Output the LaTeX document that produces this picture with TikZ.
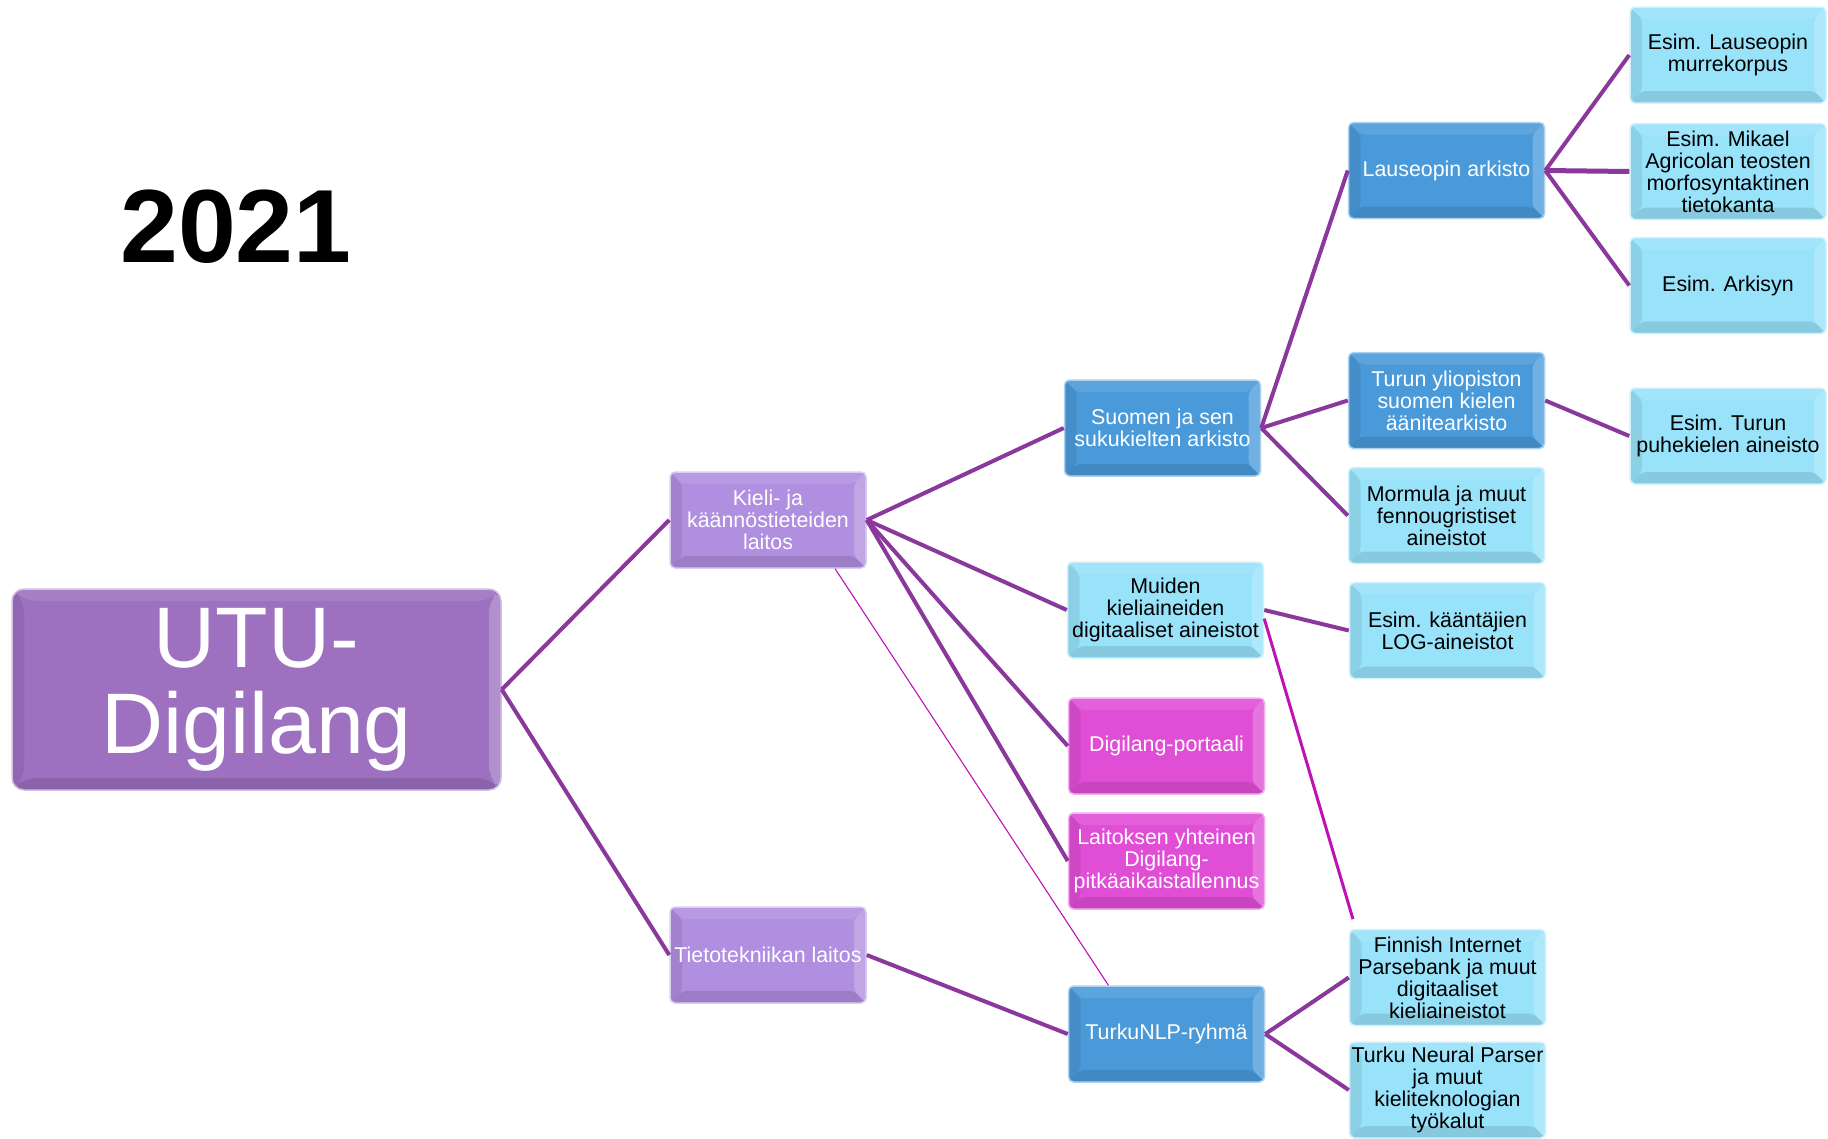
\documentclass[tikz,border=0pt]{standalone}
\usepackage{fontspec}
\setmainfont{Liberation Sans}
\usetikzlibrary{positioning}

\definecolor{utupurple}{RGB}{157,112,192}
\definecolor{deptpurple}{RGB}{176,142,224}
\definecolor{archblue}{RGB}{74,154,218}
\definecolor{datacyan}{RGB}{152,226,250}
\definecolor{portalpink}{RGB}{224,78,214}
\definecolor{linepurple}{RGB}{138,56,156}
\definecolor{crossmagenta}{RGB}{190,18,182}

\newcommand{\boxfont}{\fontsize{21.4}{22}\selectfont}

\tikzset{
  bevel/.style={path picture={
      % darker left and bottom, lighter top and right
      \fill[black, opacity=0.08] (path picture bounding box.south west) -- (path picture bounding box.north west)
        -- ([shift={(#1,-#1)}]path picture bounding box.north west) -- ([shift={(#1,#1)}]path picture bounding box.south west) -- cycle;
      \fill[black, opacity=0.11] (path picture bounding box.south west) -- (path picture bounding box.south east)
        -- ([shift={(-#1,#1)}]path picture bounding box.south east) -- ([shift={(#1,#1)}]path picture bounding box.south west) -- cycle;
      \fill[white, opacity=0.10] (path picture bounding box.north west) -- (path picture bounding box.north east)
        -- ([shift={(-#1,-#1)}]path picture bounding box.north east) -- ([shift={(#1,-#1)}]path picture bounding box.north west) -- cycle;
      \fill[white, opacity=0.22] (path picture bounding box.north east) -- (path picture bounding box.south east)
        -- ([shift={(-#1,#1)}]path picture bounding box.south east) -- ([shift={(-#1,-#1)}]path picture bounding box.north east) -- cycle;
  }},
  tile/.style 2 args={fill=#1, draw=#1!45!white, line width=1.5pt, rounded corners=5pt,
      minimum width=196pt, minimum height=96pt, inner sep=1pt, align=center,
      text=#2, font=\boxfont, bevel=12pt},
  link/.style={draw=linepurple, line width=4pt},
  crosslink/.style={draw=crossmagenta, line width=3pt},
  thinlink/.style={draw=crossmagenta, line width=1.1pt},
}

\begin{document}
\begin{tikzpicture}[x=1pt,y=-1pt]
  \useasboundingbox (0,0) rectangle (1828,1138);

  \node (year) at (236,227) {\fontsize{104}{104}\selectfont\bfseries 2021};

  \node[tile={utupurple}{white}, minimum width=489pt, minimum height=201pt, rounded corners=12pt,
        font=\fontsize{86}{86}\selectfont] (utu) at (256.5,689.5) {UTU-\\Digilang};

  \node[tile={deptpurple}{white}] (kieli) at (768,520) {Kieli- ja\\käännöstieteiden\\laitos};
  \node[tile={deptpurple}{white}] (tieto) at (768,955) {Tietotekniikan laitos};

  \node[tile={archblue}{white}] (suomen) at (1162.5,428) {Suomen ja sen\\sukukielten arkisto};
  \node[tile={datacyan}{black}] (muiden) at (1165.5,610) {Muiden\\kieliaineiden\\digitaaliset aineistot};
  \node[tile={portalpink}{white}] (portaali) at (1166.5,746) {Digilang-portaali};
  \node[tile={portalpink}{white}] (laitoksen) at (1166.5,861) {Laitoksen yhteinen\\Digilang-\\pitkäaikaistallennus};
  \node[tile={archblue}{white}] (turkunlp) at (1166.5,1034) {TurkuNLP-ryhmä};

  \node[tile={archblue}{white}] (lauseopin) at (1446.5,170.5) {Lauseopin arkisto};
  \node[tile={archblue}{white}] (turun) at (1446.5,400.5) {Turun yliopiston\\suomen kielen\\äänitearkisto};
  \node[tile={datacyan}{black}] (mormula) at (1446.5,515.5) {Mormula ja muut\\fennougristiset\\aineistot};
  \node[tile={datacyan}{black}] (kaantajien) at (1447.5,630.5) {Esim. kääntäjien\\LOG-aineistot};
  \node[tile={datacyan}{black}] (finnish) at (1447.5,977.5) {Finnish Internet\\Parsebank ja muut\\digitaaliset\\kieliaineistot};
  \node[tile={datacyan}{black}] (neural) at (1447.5,1090) {Turku Neural Parser\\ja muut\\kieliteknologian\\työkalut};

  \node[tile={datacyan}{black}] (murre) at (1728,55) {Esim. Lauseopin\\murrekorpus};
  \node[tile={datacyan}{black}] (mikael) at (1728,171.5) {Esim. Mikael\\Agricolan teosten\\morfosyntaktinen\\tietokanta};
  \node[tile={datacyan}{black}] (arkisyn) at (1728,285.5) {Esim. Arkisyn};
  \node[tile={datacyan}{black}] (puhekieli) at (1728,436) {Esim. Turun\\puhekielen aineisto};

  % tree links
  \draw[link] (utu.east) -- (kieli.west);
  \draw[link] (utu.east) -- (tieto.west);
  \draw[link] (kieli.east) -- (suomen.west);
  \draw[link] (kieli.east) -- (muiden.west);
  \draw[link] (kieli.east) -- (portaali.west);
  \draw[link] (kieli.east) -- (laitoksen.west);
  \draw[link] (tieto.east) -- (turkunlp.west);
  \draw[link] (suomen.east) -- (lauseopin.west);
  \draw[link] (suomen.east) -- (turun.west);
  \draw[link] (suomen.east) -- (mormula.west);
  \draw[link] (lauseopin.east) -- (murre.west);
  \draw[link, line width=5pt] (lauseopin.east) -- (mikael.west);
  \draw[link] (lauseopin.east) -- (arkisyn.west);
  \draw[link] (turun.east) -- (puhekieli.west);
  \draw[link] (muiden.east) -- (kaantajien.west);
  \draw[link] (turkunlp.east) -- (finnish.west);
  \draw[link] (turkunlp.east) -- (neural.west);

  % cross links
  \draw[crosslink, shorten >=10pt] (muiden.-5) -- (finnish.152);
  \draw[thinlink] (kieli.-36) -- (turkunlp.140);
\end{tikzpicture}
\end{document}
